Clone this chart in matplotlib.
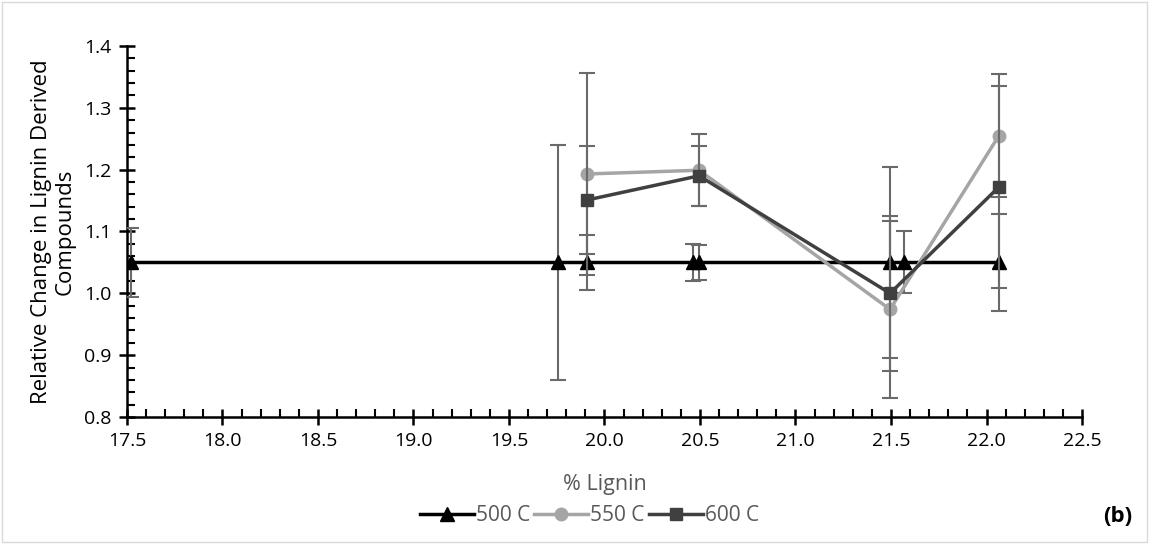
import matplotlib.pyplot as plt
from matplotlib.ticker import MultipleLocator, FormatStrFormatter
from matplotlib.patches import Rectangle
from matplotlib.lines import Line2D

plt.rcParams['font.family'] = ['Open Sans', 'DejaVu Sans']

# 500 C
x500 = [17.52, 19.757, 19.91, 20.463, 20.495, 21.495, 21.568, 22.065]
y500 = [1.05, 1.05, 1.05, 1.05, 1.05, 1.05, 1.05, 1.05]
e500 = [0.056, 0.19, 0.045, 0.03, 0.028, 0.155, 0.05, 0.078]

# 550 C
x550 = [19.91, 20.495, 21.495, 22.065]
y550 = [1.193, 1.199, 0.974, 1.255]
e550 = [0.163, 0.058, 0.143, 0.1]

# 600 C
x600 = [19.91, 20.495, 21.495, 22.065]
y600 = [1.151, 1.19, 1.0, 1.172]
e600 = [0.087, 0.048, 0.125, 0.163]

fig = plt.figure(figsize=(11.49, 5.44), dpi=100)
ax = fig.add_axes([0.1105, 0.2335, 0.8312, 0.682])

errc = '#6a6a6a'
styles = [('500 C', x500, y500, e500, 'black', '^', 10),
          ('550 C', x550, y550, e550, '#a5a5a5', 'o', 9),
          ('600 C', x600, y600, e600, '#404040', 's', 8)]
handles = []
for i, (name, xs, ys, es, c, m, ms) in enumerate(styles):
    ax.errorbar(xs, ys, yerr=es, color=c, lw=2.5, marker=m, ms=ms,
                ecolor=errc, elinewidth=1.5, capsize=6, capthick=1.5, zorder=3 + i)
    handles.append(Line2D([], [], color=c, lw=2.5, marker=m, ms=ms, label=name))

ax.set_xlim(17.5, 22.5)
ax.set_ylim(0.8, 1.4)
ax.xaxis.set_major_locator(MultipleLocator(0.5))
ax.xaxis.set_minor_locator(MultipleLocator(0.1))
ax.yaxis.set_major_locator(MultipleLocator(0.1))
ax.yaxis.set_minor_locator(MultipleLocator(0.02))
ax.xaxis.set_major_formatter(FormatStrFormatter('%.1f'))
ax.yaxis.set_major_formatter(FormatStrFormatter('%.1f'))

for s in ['top', 'right']:
    ax.spines[s].set_visible(False)
for s in ['left', 'bottom']:
    ax.spines[s].set_linewidth(1.8)
ax.tick_params(which='major', direction='inout', length=12, width=1.8, labelsize=14, pad=5)
ax.tick_params(which='minor', direction='in', length=6, width=1.5)

ax.set_xlabel('% Lignin', fontsize=15.5, color='#595959', labelpad=17)
ax.set_ylabel('Relative Change in Lignin Derived\nCompounds', fontsize=16, labelpad=6)

leg = fig.legend(handles=handles, loc='center', bbox_to_anchor=(0.513, 0.052), ncol=3,
                 frameon=False, fontsize=15, handlelength=2.6, columnspacing=0.2,
                 handletextpad=0.1)
for t in leg.get_texts():
    t.set_color('#595959')

fig.text(0.985, 0.05, '(b)', fontsize=16, fontweight='bold', ha='right', va='center')
fig.patches.append(Rectangle((0.002, 0.003), 0.996, 0.994, transform=fig.transFigure,
                             fill=False, edgecolor='#d9d9d9', lw=1))

fig.savefig('out.png', dpi=100)
